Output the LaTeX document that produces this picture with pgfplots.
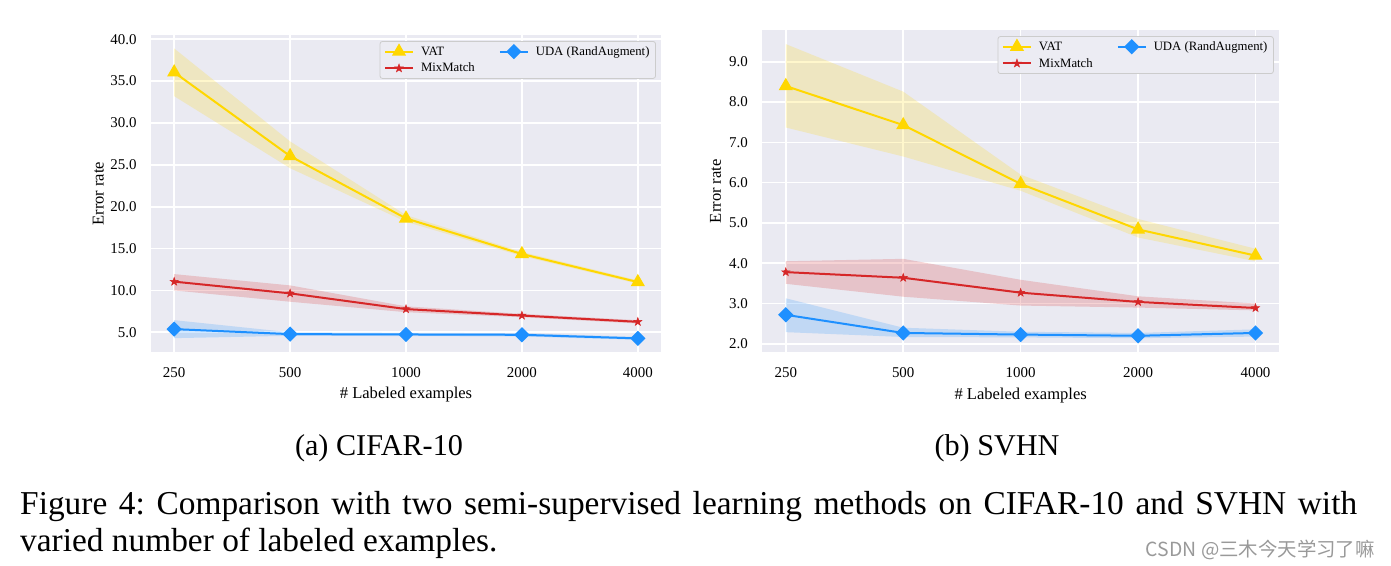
\documentclass[border=0pt]{standalone}
\usepackage{fontspec}
\setmainfont{Liberation Serif}
\newfontfamily\cjk{Noto Sans CJK SC}
\usepackage{pgfplots}
\pgfplotsset{compat=1.18}
\usepgfplotslibrary{fillbetween}
\usepackage{pgfplotstable}
\frenchspacing

\definecolor{bgc}{HTML}{EAEAF2}
\definecolor{vat}{HTML}{FFD700}
\definecolor{mm}{HTML}{D62728}
\definecolor{uda}{HTML}{1E90FF}
\definecolor{legfill}{HTML}{ECECF3}
\definecolor{legdraw}{HTML}{CCCCCC}

\pgfdeclareplotmark{fstar}{%
  \pgfpathmoveto{\pgfpointpolar{90}{\pgfplotmarksize}}%
  \pgfpathlineto{\pgfpointpolar{126}{0.4\pgfplotmarksize}}%
  \pgfpathlineto{\pgfpointpolar{162}{\pgfplotmarksize}}%
  \pgfpathlineto{\pgfpointpolar{198}{0.4\pgfplotmarksize}}%
  \pgfpathlineto{\pgfpointpolar{234}{\pgfplotmarksize}}%
  \pgfpathlineto{\pgfpointpolar{270}{0.4\pgfplotmarksize}}%
  \pgfpathlineto{\pgfpointpolar{306}{\pgfplotmarksize}}%
  \pgfpathlineto{\pgfpointpolar{342}{0.4\pgfplotmarksize}}%
  \pgfpathlineto{\pgfpointpolar{18}{\pgfplotmarksize}}%
  \pgfpathlineto{\pgfpointpolar{54}{0.4\pgfplotmarksize}}%
  \pgfpathclose
  \pgfusepathqfillstroke
}

% CIFAR-10
\pgfplotstableread{
x vat vatlo vatup mm mmlo mmup uda udalo udaup
0 36.05 33.2 38.9 11.05 10.0 11.95 5.38 4.30 6.45
1 26.05 24.6 27.8 9.65 8.65 10.6 4.78 4.58 5.00
2 18.60 18.2 19.0 7.77 7.40 8.10 4.74 4.55 4.93
3 14.35 14.1 14.6 7.00 6.80 7.20 4.70 4.50 4.90
4 11.00 10.8 11.2 6.25 6.05 6.45 4.27 4.10 4.45
}\cifar

% SVHN
\pgfplotstableread{
x vat vatlo vatup mm mmlo mmup uda udalo udaup
0 8.40 7.37 9.44 3.78 3.49 4.05 2.72 2.29 3.13
1 7.43 6.65 8.26 3.64 3.17 4.11 2.27 2.17 2.40
2 5.97 5.80 6.20 3.27 2.95 3.59 2.23 2.16 2.30
3 4.84 4.64 5.10 3.04 2.90 3.18 2.20 2.14 2.27
4 4.19 4.05 4.36 2.89 2.83 3.00 2.27 2.18 2.36
}\svhn

\pgfplotsset{
  myaxis/.style={
    scale only axis,
    axis background/.style={fill=bgc},
    axis line style={draw=none},
    major tick length=0pt,
    grid=major,
    major grid style={white, line width=1.6bp},
    xmin=-0.2, xmax=4.2,
    xtick={0,1,2,3,4},
    xticklabels={250,500,1000,2000,4000},
    tick label style={font=\fontsize{15}{18}\selectfont},
    /pgf/number format/assume math mode=true,
    yticklabel style={/pgf/number format/.cd, fixed, fixed zerofill, precision=1},
    xticklabel shift=12bp,
    yticklabel shift=11bp,
    label style={font=\fontsize{16.6}{20}\selectfont},
    xlabel={\# Labeled examples},
    ylabel={Error rate},
    xlabel style={at={(axis description cs:0.5,-0.133)}, anchor=center},
    legend columns=2,
    legend style={
      at={(axis description cs:0.99,0.981)}, anchor=north east,
      fill=legfill, draw=legdraw, line width=0.8bp, rounded corners=2.5bp,
      font=\fontsize{12.8}{15}\selectfont,
      inner xsep=4bp, inner ysep=3bp, row sep=2.4bp,
      /tikz/every odd column/.append style={column sep=5bp},
      /tikz/every even column/.append style={column sep=22bp},
    },
    legend cell align=left,
    legend image code/.code={%
      \draw[mark repeat=2, mark phase=2, ##1] plot coordinates {(0bp,0bp) (14bp,0bp) (28bp,0bp)};},
  },
  vatline/.style={vat, line width=2bp, mark=triangle*, mark size=6.2bp, mark options={solid}},
  mmline/.style={mm, line width=2bp, mark=fstar, mark size=4.3bp, mark options={solid, line width=0.5bp}},
  udaline/.style={uda, line width=2bp, mark=square*, mark size=4.4bp, mark options={solid, rotate=45}},
}

\begin{document}
\begin{tikzpicture}

% ---------- (a) CIFAR-10 ----------
\begin{axis}[myaxis,
  at={(151bp,213.7bp)}, anchor=south west,
  width=510bp, height=317.3bp,
  ymin=2.61, ymax=40.51,
  ytick={5,10,15,20,25,30,35,40},
  ylabel style={at={(axis description cs:-0.1033,0.5)}, anchor=center},
]
\addplot[name path=avu, draw=none, forget plot] table[x=x,y=vatup]{\cifar};
\addplot[name path=avl, draw=none, forget plot] table[x=x,y=vatlo]{\cifar};
\addplot[fill=vat, fill opacity=0.2, draw=none, forget plot] fill between[of=avu and avl];
\addplot[name path=amu, draw=none, forget plot] table[x=x,y=mmup]{\cifar};
\addplot[name path=aml, draw=none, forget plot] table[x=x,y=mmlo]{\cifar};
\addplot[fill=mm, fill opacity=0.2, draw=none, forget plot] fill between[of=amu and aml];
\addplot[name path=auu, draw=none, forget plot] table[x=x,y=udaup]{\cifar};
\addplot[name path=aul, draw=none, forget plot] table[x=x,y=udalo]{\cifar};
\addplot[fill=uda, fill opacity=0.2, draw=none, forget plot] fill between[of=auu and aul];

\addplot[vatline] table[x=x,y=vat]{\cifar};
\addlegendentry{VAT}
\addplot[udaline] table[x=x,y=uda]{\cifar};
\addlegendentry{UDA (RandAugment)}
\addplot[mmline] table[x=x,y=mm]{\cifar};
\addlegendentry{MixMatch}
\end{axis}

% ---------- (b) SVHN ----------
\begin{axis}[myaxis,
  at={(762.3bp,213.7bp)}, anchor=south west,
  width=516.7bp, height=322.3bp,
  ymin=1.79, ymax=9.79,
  ytick={2,3,4,5,6,7,8,9},
  ylabel style={at={(axis description cs:-0.0906,0.5)}, anchor=center},
]
\addplot[name path=bvu, draw=none, forget plot] table[x=x,y=vatup]{\svhn};
\addplot[name path=bvl, draw=none, forget plot] table[x=x,y=vatlo]{\svhn};
\addplot[fill=vat, fill opacity=0.2, draw=none, forget plot] fill between[of=bvu and bvl];
\addplot[name path=bmu, draw=none, forget plot] table[x=x,y=mmup]{\svhn};
\addplot[name path=bml, draw=none, forget plot] table[x=x,y=mmlo]{\svhn};
\addplot[fill=mm, fill opacity=0.2, draw=none, forget plot] fill between[of=bmu and bml];
\addplot[name path=buu, draw=none, forget plot] table[x=x,y=udaup]{\svhn};
\addplot[name path=bul, draw=none, forget plot] table[x=x,y=udalo]{\svhn};
\addplot[fill=uda, fill opacity=0.2, draw=none, forget plot] fill between[of=buu and bul];

\addplot[vatline] table[x=x,y=vat]{\svhn};
\addlegendentry{VAT}
\addplot[udaline] table[x=x,y=uda]{\svhn};
\addlegendentry{UDA (RandAugment)}
\addplot[mmline] table[x=x,y=mm]{\svhn};
\addlegendentry{MixMatch}
\end{axis}

% captions
\node[anchor=base, inner sep=0, font=\fontsize{30.3}{36}\selectfont] at (379bp,110bp) {(a) CIFAR-10};
\node[anchor=base, inner sep=0, font=\fontsize{30.3}{36}\selectfont] at (997bp,110bp) {(b) SVHN};
\node[anchor=base west, inner sep=0, font=\fontsize{33.5}{40}\selectfont] at (20bp,51bp)
  {\makebox[1337bp][s]{Figure 4: Comparison with two semi-supervised learning methods on CIFAR-10 and SVHN with}};
\node[anchor=base west, inner sep=0, font=\fontsize{33.5}{40}\selectfont] at (20bp,14.3bp)
  {varied number of labeled examples.};
\node[anchor=east, inner sep=0, text=gray!80, font=\cjk\fontsize{19.5}{23}\selectfont] at (1375bp,16bp)
  {CSDN @三木今天学习了嘛};

\pgfresetboundingbox
\path[use as bounding box] (0bp,0bp) rectangle (1391bp,566bp);
\end{tikzpicture}
\end{document}
